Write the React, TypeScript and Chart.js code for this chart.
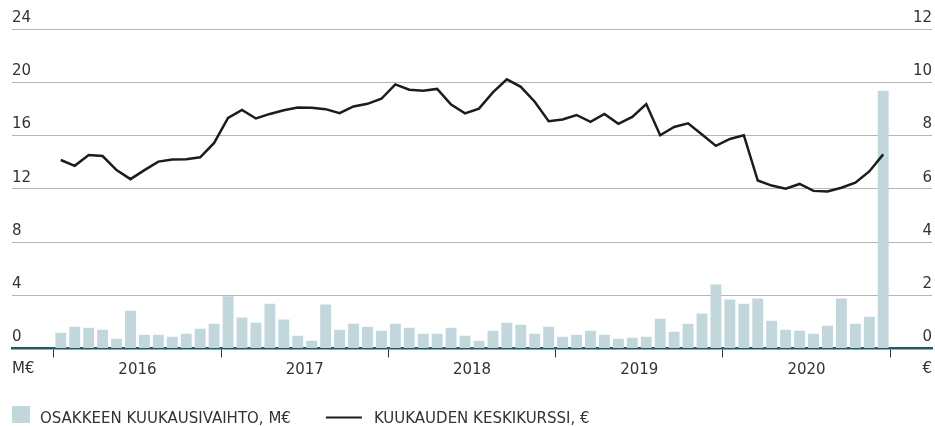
import React, { useEffect, useRef } from "react";
import { Chart, registerables } from "chart.js";

Chart.register(...registerables);

// ---- data ----
const years = ["2016", "2017", "2018", "2019", "2020"];
const unitLeft = "M€";
const unitRight = "€";
const legendLabels = ["OSAKKEEN KUUKAUSIVAIHTO, M€", "KUUKAUDEN KESKIKURSSI, €"];

// Monthly share turnover, M€ (Jan 2016 – Dec 2020)
const volumeMEUR = [
  1.18, 1.64, 1.56, 1.41, 0.73, 2.84, 1.03, 1.03, 0.88, 1.11, 1.49, 1.86,
  3.92, 2.32, 1.94, 3.37, 2.17, 0.96, 0.58, 3.3, 1.41, 1.86, 1.64, 1.34,
  1.86, 1.56, 1.11, 1.11, 1.56, 0.96, 0.58, 1.34, 1.94, 1.79, 1.11, 1.64,
  0.88, 1.03, 1.34, 1.03, 0.73, 0.81, 0.88, 2.24, 1.26, 1.86, 2.62, 4.81,
  3.68, 3.37, 3.75, 2.09, 1.41, 1.34, 1.11, 1.71, 3.75, 1.86, 2.39, 19.37,
];

// Monthly average share price, €
const avgPriceEUR = [
  7.08, 6.86, 7.27, 7.23, 6.7, 6.36, 6.7, 7.02, 7.1, 7.11, 7.18, 7.72,
  8.66, 8.96, 8.64, 8.81, 8.95, 9.05, 9.04, 8.99, 8.84, 9.09, 9.19, 9.38,
  9.92, 9.72, 9.68, 9.75, 9.16, 8.83, 9.01, 9.62, 10.11, 9.83, 9.27, 8.54,
  8.6, 8.77, 8.51, 8.81, 8.44, 8.7, 9.18, 8.01, 8.32, 8.46, 8.04, 7.61,
  7.87, 8.01, 6.31, 6.12, 6.0, 6.18, 5.92, 5.9, 6.04, 6.23, 6.65, 7.29,
];

const leftMax = 24;
const leftStep = 4;
const rightMax = 12;
const rightStep = 2;

// ---- styles ----
const FONT_FAMILY = "'DejaVu Sans', sans-serif";
const TEXT = "#333333";
const GRID = "#b5b5b5";
const BAR = "#c1d7dc";
const AXIS = "#215a6a";
const LINE = "#1c1c1c";

const extrasPlugin = {
  id: "extras",
  afterDraw(chart: any) {
    const { ctx, chartArea } = chart;
    ctx.save();
    ctx.font = `15px ${FONT_FAMILY}`;
    ctx.fillStyle = TEXT;
    ctx.textBaseline = "alphabetic";
    // axis units
    const unitY = chartArea.bottom + 24.5;
    ctx.textAlign = "left";
    ctx.fillText(unitLeft, chartArea.left, unitY);
    ctx.textAlign = "right";
    ctx.fillText(unitRight, chartArea.right, unitY);

    // legend
    ctx.textAlign = "left";
    const base = chart.height - 4;
    let x = chartArea.left;
    ctx.fillStyle = BAR;
    ctx.fillRect(x, base - 17, 18, 17);
    x += 28;
    ctx.fillStyle = TEXT;
    ctx.fillText(legendLabels[0], x, base);
    x += ctx.measureText(legendLabels[0]).width + 35;
    ctx.strokeStyle = LINE;
    ctx.lineWidth = 2;
    ctx.beginPath();
    ctx.moveTo(x, base - 5.5);
    ctx.lineTo(x + 36, base - 5.5);
    ctx.stroke();
    x += 48;
    ctx.fillText(legendLabels[1], x, base);
    ctx.restore();
  },
};

export default function App() {
  const ref = useRef<HTMLCanvasElement | null>(null);

  useEffect(() => {
    if (!ref.current) return;
    const font = { family: FONT_FAMILY, size: 15 };
    const chart = new Chart(ref.current, {
      type: "bar",
      data: {
        datasets: [
          {
            type: "line",
            label: legendLabels[1],
            data: avgPriceEUR.map((v, i) => ({ x: i + 0.5, y: v })),
            borderColor: LINE,
            borderWidth: 2.5,
            pointRadius: 0,
            tension: 0,
            xAxisID: "x",
            yAxisID: "y1",
            order: 1,
          } as any,
          {
            type: "bar",
            label: legendLabels[0],
            data: volumeMEUR.map((v, i) => ({ x: i + 0.5, y: v })),
            backgroundColor: BAR,
            barPercentage: 0.78,
            categoryPercentage: 1,
            xAxisID: "x",
            yAxisID: "y",
            order: 2,
          } as any,
        ],
      },
      options: {
        animation: false,
        responsive: false,
        layout: { autoPadding: false, padding: { left: 12, right: 3, top: 29, bottom: 49.5 } },
        plugins: { legend: { display: false }, tooltip: { enabled: false } },
        scales: {
          x: {
            type: "linear",
            position: "bottom",
            min: -3,
            max: years.length * 12 + 3,
            offset: false,
            afterBuildTicks: (s: any) => {
              const t = years.map((_, i) => ({ value: i * 12 }));
              t.push({ value: years.length * 12 });
              s.ticks = t;
            },
            afterFit: (s: any) => {
              s.height = 9;
              s.paddingLeft = 0;
              s.paddingRight = 0;
            },
            ticks: { display: false },
            grid: {
              display: true,
              offset: false,
              drawOnChartArea: false,
              drawTicks: true,
              tickLength: 9,
              color: "#333333",
              lineWidth: 1,
            },
            border: { display: true, color: AXIS, width: 2.5 },
          },
          x2: {
            type: "linear",
            position: "bottom",
            min: -3,
            max: years.length * 12 + 3,
            offset: false,
            afterBuildTicks: (s: any) => {
              s.ticks = years.map((_, i) => ({ value: i * 12 + 6 }));
            },
            afterFit: (s: any) => {
              s.height = 20;
              s.paddingLeft = 0;
              s.paddingRight = 0;
            },
            ticks: {
              callback: (_v: any, i: number) => years[i],
              font,
              color: TEXT,
              padding: -4,
              maxRotation: 0,
              autoSkip: false,
            },
            grid: { display: false, offset: false },
            border: { display: false },
          },
          y: {
            position: "left",
            min: 0,
            max: leftMax,
            afterFit: (s: any) => {
              s.width = 0;
              s.paddingTop = 0;
              s.paddingBottom = 0;
            },
            ticks: {
              stepSize: leftStep,
              mirror: true,
              padding: 0,
              labelOffset: -11,
              font,
              color: TEXT,
            },
            grid: { color: GRID, drawTicks: false, lineWidth: 1 },
            border: { display: false },
          },
          y1: {
            position: "right",
            min: 0,
            max: rightMax,
            afterFit: (s: any) => {
              s.width = 0;
              s.paddingTop = 0;
              s.paddingBottom = 0;
            },
            ticks: {
              stepSize: rightStep,
              mirror: true,
              padding: 0,
              labelOffset: -11,
              font,
              color: TEXT,
            },
            grid: { display: false },
            border: { display: false },
          },
        },
      } as any,
      plugins: [extrasPlugin],
    });
    return () => chart.destroy();
  }, []);

  return (
    <div style={{ position: "absolute", left: 0, top: 0, width: 935, height: 427, background: "#fff" }}>
      <canvas ref={ref} width={935} height={427} style={{ display: "block" }} />
    </div>
  );
}
